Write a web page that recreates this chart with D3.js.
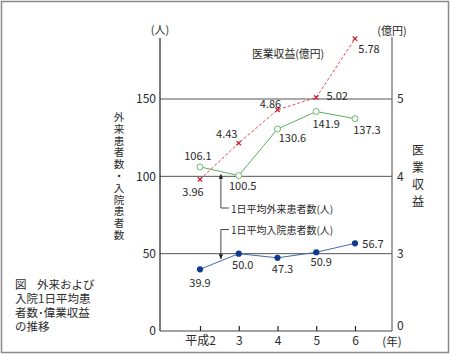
<!DOCTYPE html>
<html><head><meta charset="utf-8">
<script src="https://cdn.jsdelivr.net/npm/d3@7/dist/d3.min.js"></script>
<style>
html,body{margin:0;padding:0;background:#fff;}
svg{display:block;font-family:"Noto Sans CJK JP","Noto Sans",sans-serif;}
</style></head>
<body>
<svg id="c" width="451" height="356"></svg>
<script>
// ---- data ----
const years = ["平成2", "3", "4", "5", "6"];
const outpatients = [106.1, 100.5, 130.6, 141.9, 137.3];   // 1日平均外来患者数(人)
const inpatients = [39.9, 50.0, 47.3, 50.9, 56.7];         // 1日平均入院患者数(人)
const revenue = [3.96, 4.43, 4.86, 5.02, 5.78];            // 医業収益(億円)
const leftTicks = [0, 50, 100, 150];
const rightTicks = [0, 3, 4, 5];
const leftTitle = "外来患者数・入院患者数";
const rightTitle = "医業収益";
const captionLines = ["入院1日平均患", "者数･偉業収益", "の推移"];

// ---- layout (label offsets relative to points) ----
const outLabelOff = [[-2,-12],[4,9],[15,8],[10,11],[12,10]];
const inLabelOff = [[0,13],[4,10],[5,10],[5,9],[18,0]];
const revLabelOff = [[-7,12],[-12,-10],[-7,-7],[21,-2],[14,9]];

const svg = d3.select("#c");
const FONT = '"Noto Sans CJK JP","Noto Sans",sans-serif';
const TXT = "#2a2a2a";

// border
svg.append("rect").attr("x",1.5).attr("y",1.5).attr("width",447).attr("height",351)
  .attr("fill","none").attr("stroke","#8a8a8a").attr("stroke-width",1.5);

const plotL = 160, plotR = 392, plotB = 331, plotT = 38;
const yL = d3.scaleLinear().domain([0,150]).range([plotB, 99]);
const yR = d3.scaleLinear().domain([0,3,5]).range([yL(0), yL(50), yL(150)]);
const x = d3.scalePoint().domain(years).range([200, 355]);

// gridlines
svg.append("g").selectAll("line").data(leftTicks.filter(d=>d>0)).join("line")
  .attr("x1",plotL).attr("x2",plotR).attr("y1",d=>yL(d)).attr("y2",d=>yL(d))
  .attr("stroke","#555").attr("stroke-width",1);

// left axis
const gL = svg.append("g").attr("transform",`translate(${plotL},0)`)
  .call(d3.axisLeft(yL).tickValues(leftTicks).tickSize(0).tickPadding(4));
gL.select(".domain").remove();
gL.selectAll("text").attr("font-family",FONT).attr("font-size",12).attr("fill",TXT);
svg.append("line").attr("x1",plotL).attr("x2",plotL).attr("y1",plotT).attr("y2",plotB)
  .attr("stroke","#222").attr("stroke-width",1.2);

// right axis
const gR = svg.append("g").attr("transform",`translate(${plotR},0)`)
  .call(d3.axisRight(yR).tickValues(rightTicks).tickFormat(d3.format("d")).tickSize(0).tickPadding(5));
gR.select(".domain").remove();
gR.selectAll("text").attr("font-family",FONT).attr("font-size",12).attr("fill",TXT);
gR.selectAll(".tick").filter(d=>d===0).select("text").attr("dy","-0.1em");
svg.append("line").attr("x1",plotR).attr("x2",plotR).attr("y1",plotT-1).attr("y2",plotB)
  .attr("stroke","#666").attr("stroke-width",1.2);

// bottom axis
const gB = svg.append("g").attr("transform",`translate(0,${plotB})`)
  .call(d3.axisBottom(x).tickSizeInner(-5).tickSizeOuter(0).tickPadding(5));
gB.select(".domain").remove();
gB.selectAll("line").attr("stroke","#222").attr("stroke-width",1.2);
gB.selectAll("text").attr("font-family",FONT).attr("font-size",12).attr("fill",TXT);
svg.append("line").attr("x1",plotL).attr("x2",plotR).attr("y1",plotB).attr("y2",plotB)
  .attr("stroke","#444").attr("stroke-width",1.2);

svg.append("text").attr("x",plotR).attr("y",plotB+10).attr("text-anchor","middle")
  .attr("dominant-baseline","central").attr("font-size",11.5).attr("fill",TXT).text("(年)");

// units
svg.append("text").attr("x",plotL).attr("y",29).attr("text-anchor","middle")
  .attr("dominant-baseline","central").attr("font-size",11).attr("fill",TXT).text("(人)");
svg.append("text").attr("x",plotR).attr("y",30).attr("text-anchor","middle")
  .attr("dominant-baseline","central").attr("font-size",11).attr("fill",TXT).text("(億円)");

// vertical titles (single vertical text each)
svg.append("text").attr("x",119).attr("y",111.7)
  .style("writing-mode","vertical-rl").style("letter-spacing","1.2px")
  .attr("font-size",10.6).attr("fill",TXT).text(leftTitle);
svg.append("text").attr("x",418).attr("y",144)
  .style("writing-mode","vertical-rl").style("letter-spacing","5.3px")
  .attr("font-size",12).attr("fill",TXT).text(rightTitle);

// caption (one text block)
const cap = svg.append("text").attr("font-size",11.5).attr("fill",TXT);
cap.append("tspan").attr("x",15).attr("y",289).text("図");
cap.append("tspan").attr("x",37).attr("y",289).text("外来および");
captionLines.forEach((t,i)=>{
  cap.append("tspan").attr("x",15).attr("y",303+i*14).text(t);
});

// annotations
const ax = (x(years[0])+x(years[1]))/2 + 1.5;
const ann = svg.append("g").attr("stroke","#333").attr("fill","none").attr("stroke-width",0.9);
ann.append("path").attr("d",`M${ax},${yL(100)-1.5} V208 H${ax+8}`);
ann.append("path").attr("d",`M${ax+8},229.5 H${ax} V${yL(50)+5}`);
svg.append("path").attr("d",`M${ax},${yL(100)-2.5} l-2.2,5 h4.4 z`).attr("fill","#222");
svg.append("path").attr("d",`M${ax},${yL(50)+5.5} l-2.2,-5 h4.4 z`).attr("fill","#222");
svg.append("text").attr("x",ax+10).attr("y",208.5).attr("dominant-baseline","central")
  .attr("font-size",10).attr("fill",TXT).text("1日平均外来患者数(人)");
svg.append("text").attr("x",ax+10).attr("y",229.5).attr("dominant-baseline","central")
  .attr("font-size",10).attr("fill",TXT).text("1日平均入院患者数(人)");
svg.append("text").attr("x",252).attr("y",53).attr("dominant-baseline","central")
  .attr("font-size",10.8).attr("fill",TXT).text("医業収益(億円)");

// ---- series ----
const lineL = d3.line().x((d,i)=>x(years[i])).y(d=>yL(d));
const lineR = d3.line().x((d,i)=>x(years[i])).y(d=>yR(d));

// revenue (dashed red)
svg.append("path").datum(revenue).attr("d",lineR).attr("fill","none")
  .attr("stroke","#d23a4a").attr("stroke-width",0.9).attr("stroke-dasharray","3,2");
svg.append("g").selectAll("path").data(revenue).join("path")
  .attr("d",(d,i)=>{const cx=x(years[i]),cy=yR(d),s=2.2;return `M${cx-s},${cy-s}L${cx+s},${cy+s}M${cx-s},${cy+s}L${cx+s},${cy-s}`;})
  .attr("stroke","#cc1f33").attr("stroke-width",1.3);

// outpatients (green)
svg.append("path").datum(outpatients).attr("d",lineL).attr("fill","none")
  .attr("stroke","#5aae5a").attr("stroke-width",1);
svg.append("g").selectAll("circle").data(outpatients).join("circle")
  .attr("cx",(d,i)=>x(years[i])).attr("cy",d=>yL(d)).attr("r",3)
  .attr("fill","#fff").attr("stroke","#6cb86c").attr("stroke-width",1);

// inpatients (blue)
svg.append("path").datum(inpatients).attr("d",lineL).attr("fill","none")
  .attr("stroke","#4169b0").attr("stroke-width",1);
svg.append("g").selectAll("circle").data(inpatients).join("circle")
  .attr("cx",(d,i)=>x(years[i])).attr("cy",d=>yL(d)).attr("r",3.1)
  .attr("fill","#0e3a8a");

// value labels
function labels(vals, yS, off, fmt){
  svg.append("g").selectAll("text").data(vals).join("text")
    .attr("x",(d,i)=>x(years[i])+off[i][0]).attr("y",(d,i)=>yS(d)+off[i][1])
    .attr("text-anchor","middle").attr("dominant-baseline","central")
    .attr("font-size",11).attr("fill",TXT).text(fmt);
}
labels(outpatients, yL, outLabelOff, d3.format(".1f"));
labels(inpatients, yL, inLabelOff, d3.format(".1f"));
labels(revenue, yR, revLabelOff, d3.format(".2f"));
</script>
</body></html>
